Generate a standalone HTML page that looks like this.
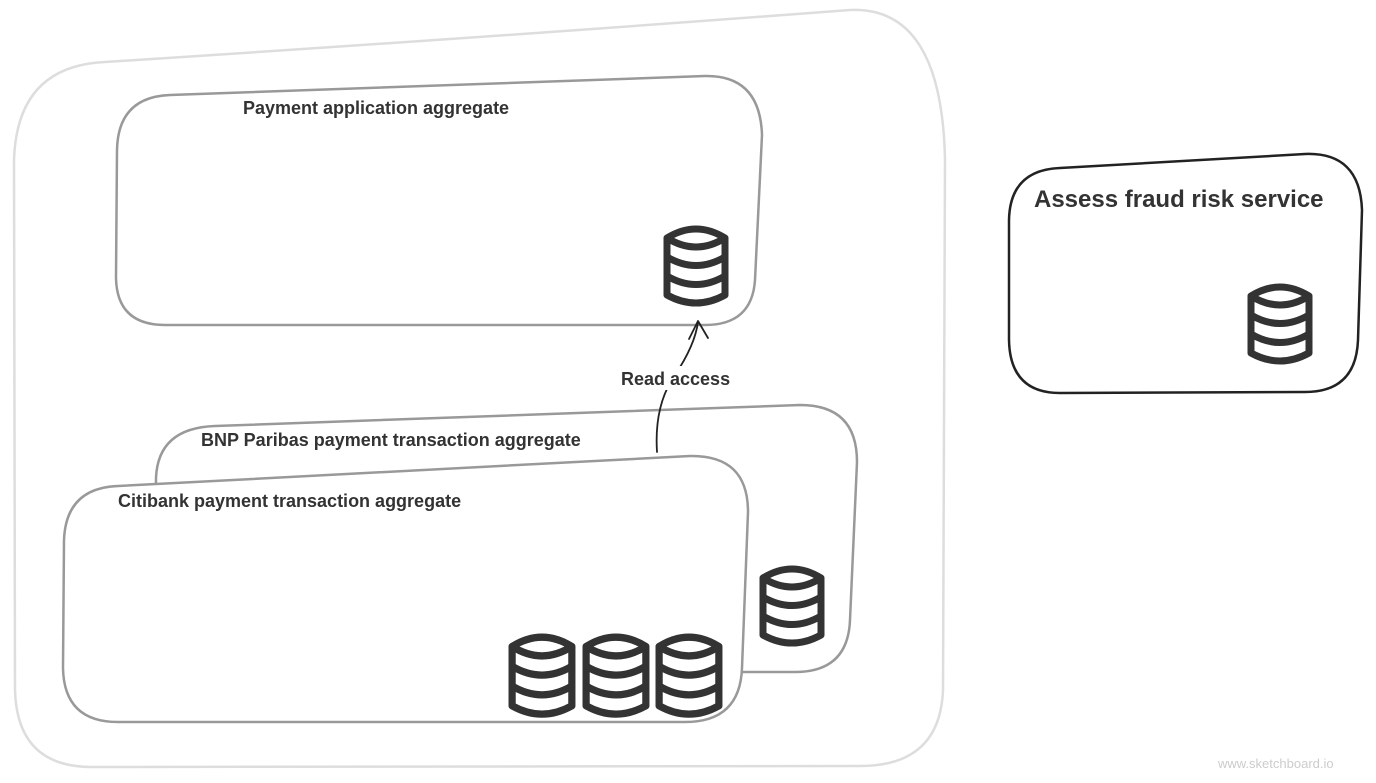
<!DOCTYPE html>
<html><head><meta charset="utf-8"><style>
html,body{margin:0;padding:0;background:#fff;width:1376px;height:783px;overflow:hidden}
svg{display:block}
text{font-family:"Liberation Sans",Arial,sans-serif;font-weight:bold;fill:#333}
</style></head><body>
<svg width="1376" height="783" viewBox="0 0 1376 783" xmlns="http://www.w3.org/2000/svg">
<g fill="none" stroke-linecap="round" stroke-linejoin="round">
<path d="M105 62 Q480 38 850 10 Q942 6 945 160 L943 690 Q940 766 860 766 L90 767 Q17 766 15 690 L14 160 Q17 66 105 62 Z" stroke="#ddd" stroke-width="2.5" fill="#fff"/>
<path d="M170 95 L705 76 Q760 75 762 135 L755 280 Q752 325 705 325 L165 325 Q117 325 116 278 L117 150 Q118 97 170 95 Z" stroke="#999" stroke-width="2.5" fill="#fff"/>
<path d="M215 426 L800 405 Q857 405 857 462 L850 620 Q848 672 795 672 L210 672 Q155 672 155 620 L156 478 Q158 428 215 426 Z" stroke="#999" stroke-width="2.5" fill="#fff"/>
<path d="M118 486 L690 456 Q748 455 748 512 L742 668 Q740 722 685 722 L118 722 Q64 722 63 668 L64 540 Q66 488 118 486 Z" stroke="#999" stroke-width="2.5" fill="#fff"/>
<path d="M1060 168 L1305 154 Q1360 152 1362 210 L1358 340 Q1356 392 1305 392 L1060 393 Q1010 393 1009 340 L1009 220 Q1010 170 1060 168 Z" stroke="#222" stroke-width="2.5" fill="#fff"/>
<path d="M657 452 Q654 405 675 375 Q695 345 698 322" stroke="#222" stroke-width="1.8"/>
<path d="M689 339 L698 321 L708 338" stroke="#222" stroke-width="1.8"/>
</g>
<g fill="#fff" stroke="#333" stroke-width="7" stroke-linejoin="round">
<g transform="translate(663,225)">
<path d="M4 13 Q33 -5 62 13 L62 70 Q33 86 4 70 Z"/><path d="M4 13 Q33 31 62 13" fill="none"/><path d="M4 32 Q33 49 62 32 M4 51 Q33 68 62 51" fill="none"/></g>
<g transform="translate(1247,283)">
<path d="M4 13 Q33 -5 62 13 L62 70 Q33 86 4 70 Z"/><path d="M4 13 Q33 31 62 13" fill="none"/><path d="M4 32 Q33 49 62 32 M4 51 Q33 68 62 51" fill="none"/></g>
<g transform="translate(759,565)">
<path d="M4 13 Q33 -5 62 13 L62 70 Q33 86 4 70 Z"/><path d="M4 13 Q33 31 62 13" fill="none"/><path d="M4 32 Q33 49 62 32 M4 51 Q33 68 62 51" fill="none"/></g>
<g transform="translate(508,633) scale(1.03,1.04)">
<path d="M4 13 Q33 -5 62 13 L62 70 Q33 86 4 70 Z"/><path d="M4 13 Q33 31 62 13" fill="none"/><path d="M4 32 Q33 49 62 32 M4 51 Q33 68 62 51" fill="none"/></g>
<g transform="translate(582,633) scale(1.03,1.04)">
<path d="M4 13 Q33 -5 62 13 L62 70 Q33 86 4 70 Z"/><path d="M4 13 Q33 31 62 13" fill="none"/><path d="M4 32 Q33 49 62 32 M4 51 Q33 68 62 51" fill="none"/></g>
<g transform="translate(655,633) scale(1.03,1.04)">
<path d="M4 13 Q33 -5 62 13 L62 70 Q33 86 4 70 Z"/><path d="M4 13 Q33 31 62 13" fill="none"/><path d="M4 32 Q33 49 62 32 M4 51 Q33 68 62 51" fill="none"/></g>
</g>
<text x="243" y="114" font-size="18">Payment application aggregate</text>
<text x="201" y="446" font-size="18">BNP Paribas payment transaction aggregate</text>
<text x="118" y="507" font-size="18">Citibank payment transaction aggregate</text>
<rect x="618" y="366" width="114" height="24" fill="#fff"/>
<text x="621" y="385" font-size="18">Read access</text>
<text x="1034" y="207" font-size="24">Assess fraud risk service</text>
<text x="1218" y="768" font-size="13" style="font-weight:normal;fill:#ccc">www.sketchboard.io</text>
</svg>
</body></html>
